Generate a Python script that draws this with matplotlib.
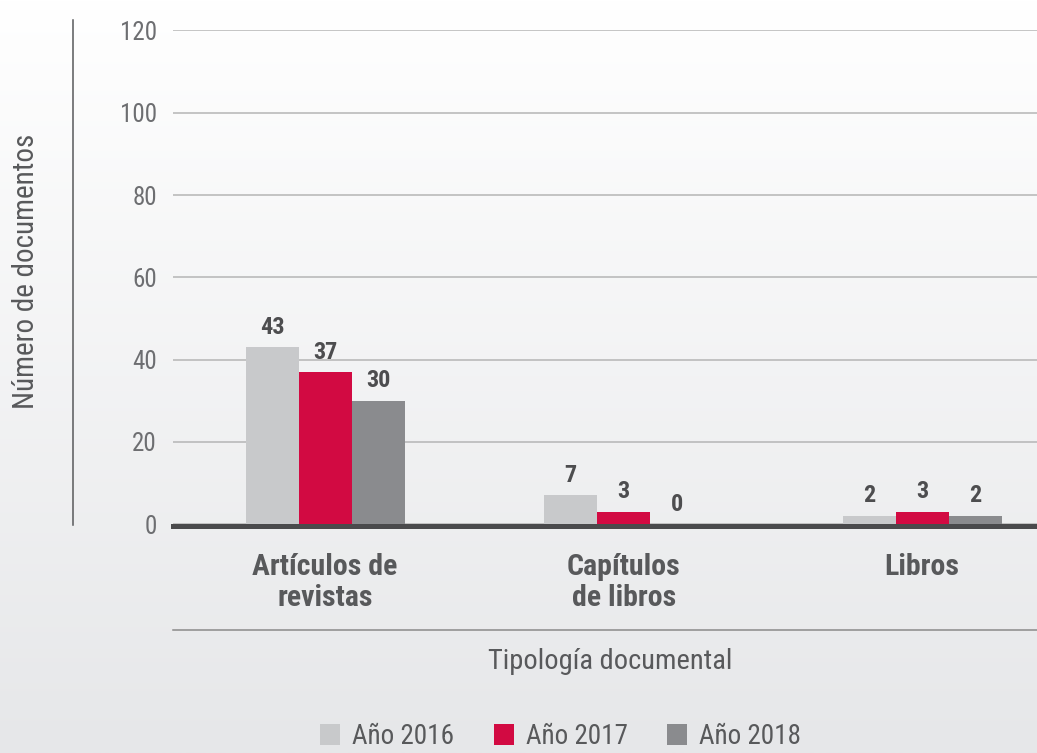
import numpy as np
import matplotlib
matplotlib.use('Agg')
import matplotlib.pyplot as plt
from matplotlib import font_manager
from matplotlib.colors import LinearSegmentedColormap
from matplotlib.lines import Line2D

categorias = ['Artículos de\nrevistas', 'Capítulos\nde libros', 'Libros']
anios = ['Año 2016', 'Año 2017', 'Año 2018']
v2016 = [43, 7, 2]
v2017 = [37, 3, 3]
v2018 = [30, 0, 2]
colores = ['#c8c9cb', '#d20a42', '#8a8b8e']
yticks = [0, 20, 40, 60, 80, 100, 120]

# fuente estrecha: la primera que tenga regular y negrita
pesos = {}
for f in font_manager.fontManager.ttflist:
    if f.style == 'normal':
        pesos.setdefault(f.name, set()).add(f.weight)
fuente = 'DejaVu Sans'
for nombre in ['Roboto Condensed', 'Liberation Sans Narrow', 'Archivo Narrow',
               'Barlow Semi Condensed', 'Asap Condensed']:
    w = pesos.get(nombre, set())
    if 400 in w and 700 in w:
        fuente = nombre
        break
plt.rcParams['font.family'] = [fuente, 'DejaVu Sans']

fig = plt.figure(figsize=(10.37, 7.53), dpi=100)
fig.patch.set_facecolor('white')

# fondo degradado
bg = fig.add_axes([0, 0, 1, 1], zorder=-10)
grad = np.linspace(0, 1, 256).reshape(-1, 1)
cmap = LinearSegmentedColormap.from_list('fondo', ['#ffffff', '#e6e7e9'])
bg.imshow(grad, aspect='auto', cmap=cmap, extent=[0, 1, 0, 1], origin='upper')
bg.axis('off')

ax = fig.add_axes([0.1668, 0.3041, 0.8332, 0.6554])
ax.patch.set_alpha(0)

x = np.arange(len(categorias))
w = 0.1776
for i, vals in enumerate([v2016, v2017, v2018]):
    barras = ax.bar(x + (i - 1) * w, vals, w, color=colores[i], label=anios[i], zorder=3)
    ax.bar_label(barras, padding=6, fontsize=17.5, fontweight='bold', color='#4d4d4f')

ax.set_xlim(-0.51, 2.385)
ax.set_ylim(0, 120)
ax.set_yticks(yticks)
ax.yaxis.grid(True, color='#b5b5b5', lw=1.1)
ax.set_axisbelow(True)
for s in ax.spines.values():
    s.set_visible(False)
ax.tick_params(axis='y', length=0, pad=11.5, labelsize=18, labelcolor='#6d6e71')
ax.set_xticks(x)
ax.set_xticklabels(categorias, fontsize=21.5, fontweight='bold', color='#58595b', linespacing=1.12)
ax.tick_params(axis='x', length=0, pad=21)

# línea base gruesa y línea inferior
ax.axhline(-0.6, color='#4a4a4c', lw=3.6, clip_on=False, zorder=4)
ax.axhline(-25.7, color='#8a8a8a', lw=1.1, clip_on=False)

fig.add_artist(Line2D([0.0704, 0.0704], [0.3028, 0.9734], color='#58595b', lw=1.1))

fig.text(0.588, 0.1116, 'Tipología documental', ha='center', va='baseline',
         fontsize=20.5, color='#58595b')
fig.text(0.025, 0.6394, 'Número de documentos', rotation=90, ha='center', va='center',
         fontsize=21, color='#58595b')

fig.legend(ncol=3, loc='center', bbox_to_anchor=(0.5405, 0.022), frameon=False,
           fontsize=19.5, labelcolor='#58595b', handlelength=0.74, handleheight=0.8,
           handletextpad=0.44, columnspacing=1.45, borderaxespad=0)

fig.savefig('out.png', dpi=100)
